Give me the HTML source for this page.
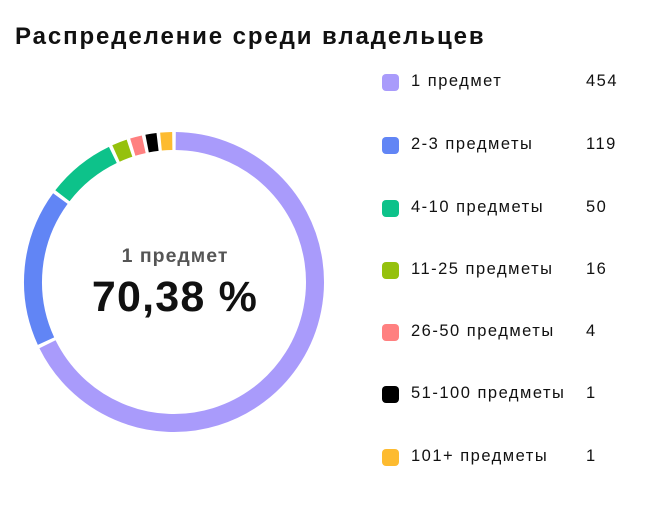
<!DOCTYPE html>
<html><head><meta charset="utf-8"><style>
body{margin:0;background:#fff;width:661px;height:519px;overflow:hidden;font-family:"Liberation Sans",sans-serif;position:relative}
.t{position:absolute;left:15px;top:23px;font-size:24px;font-weight:bold;color:#111;letter-spacing:1.9px;white-space:nowrap}
.row{position:absolute;left:382px;height:20px;font-size:16.5px;color:#111;letter-spacing:1.5px}
.sq{position:absolute;left:0;top:2px;width:17px;height:17px;border-radius:4px}
.lb{position:absolute;left:29px;top:0px;white-space:nowrap}
.nm{position:absolute;left:204px;top:0px}
</style></head><body>
<div class="t">Распределение среди владельцев</div>
<svg width="661" height="519" style="position:absolute;left:0;top:0">
<g fill="none" stroke-width="18" id="g"></g>
<text x="175" y="262" text-anchor="middle" font-size="19.5" font-weight="bold" fill="#555" letter-spacing="1" font-family="Liberation Sans">1 предмет</text>
<text x="175" y="311" text-anchor="middle" font-size="43" font-weight="bold" fill="#111" letter-spacing="1.2" font-family="Liberation Sans">70,38 %</text>
</svg>
<script>
var cx=174,cy=282,r=141,gp=0.7,segs=[[0,244.5,'#a99bfb'],[244.5,307,'#6185f5'],[307,335,'#0dc28a'],[335,342.3,'#95c10d'],[342.3,348.3,'#ff8080'],[348.3,354,'#000'],[354,360,'#fdbb30']];
var g=document.getElementById('g'),h='';
function p(a){a=a*Math.PI/180;return (cx+r*Math.sin(a)).toFixed(2)+' '+(cy-r*Math.cos(a)).toFixed(2);}
segs.forEach(function(s){var a=s[0]+gp,b=s[1]-gp;h+='<path stroke="'+s[2]+'" d="M'+p(a)+' A'+r+' '+r+' 0 '+((b-a)>180?1:0)+' 1 '+p(b)+'"/>';});
g.innerHTML=h;
</script>
<div class="row" style="top:72px"><div class="sq" style="background:#a99bfb"></div><div class="lb">1 предмет</div><div class="nm">454</div></div>
<div class="row" style="top:135px"><div class="sq" style="background:#6185f5"></div><div class="lb">2-3 предметы</div><div class="nm">119</div></div>
<div class="row" style="top:198px"><div class="sq" style="background:#0dc28a"></div><div class="lb">4-10 предметы</div><div class="nm">50</div></div>
<div class="row" style="top:260px"><div class="sq" style="background:#95c10d"></div><div class="lb">11-25 предметы</div><div class="nm">16</div></div>
<div class="row" style="top:322px"><div class="sq" style="background:#ff8080"></div><div class="lb">26-50 предметы</div><div class="nm">4</div></div>
<div class="row" style="top:384px"><div class="sq" style="background:#000"></div><div class="lb">51-100 предметы</div><div class="nm">1</div></div>
<div class="row" style="top:447px"><div class="sq" style="background:#fdbb30"></div><div class="lb">101+ предметы</div><div class="nm">1</div></div>
</body></html>
